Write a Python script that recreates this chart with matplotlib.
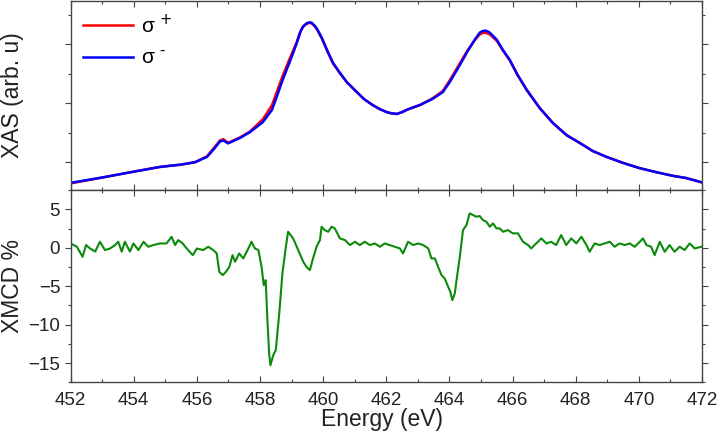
import numpy as np
from matplotlib import pyplot as plt
from matplotlib.ticker import MultipleLocator

plt.rcParams['font.family'] = ['Liberation Sans', 'DejaVu Sans']

# XAS spectra (arbitrary units)
xasEnergy = [452.00, 453.00, 454.00, 454.83, 455.50, 455.94, 456.32, 456.52, 456.73, 456.84,
             456.99, 457.36, 457.68, 458.09, 458.38, 458.55, 458.72, 458.94, 459.06, 459.17,
             459.27, 459.36, 459.42, 459.48, 459.53, 459.58, 459.63, 459.67, 459.73, 459.80,
             459.96, 460.12, 460.31, 460.53, 460.75, 460.90, 461.07, 461.30, 461.57, 461.80,
             462.02, 462.17, 462.33, 462.50, 462.65, 462.85, 463.06, 463.45, 463.79, 464.01,
             464.33, 464.55, 464.80, 464.96, 465.04, 465.12, 465.20, 465.28, 465.50, 465.69,
             465.91, 466.16, 466.45, 466.86, 467.27, 467.71, 468.12, 468.54, 468.98, 469.49,
             470.02, 470.56, 471.07, 471.51, 471.98]
xasMinus = [0.65, 0.74, 0.84, 0.92, 0.96, 1.00, 1.09, 1.21, 1.35, 1.37,
            1.32, 1.41, 1.51, 1.68, 1.89, 2.14, 2.40, 2.70, 2.87, 3.03,
            3.20, 3.30, 3.33, 3.36, 3.37, 3.375, 3.37, 3.35, 3.32, 3.27,
            3.11, 2.91, 2.69, 2.52, 2.36, 2.28, 2.19, 2.07, 1.97, 1.90,
            1.85, 1.83, 1.82, 1.85, 1.89, 1.93, 1.97, 2.07, 2.19, 2.36,
            2.65, 2.86, 3.08, 3.20, 3.225, 3.235, 3.225, 3.20, 3.08, 2.91,
            2.74, 2.48, 2.23, 1.92, 1.67, 1.46, 1.33, 1.19, 1.09, 0.99,
            0.90, 0.83, 0.77, 0.73, 0.66]
xasPlus = [0.64, 0.74, 0.84, 0.92, 0.96, 1.00, 1.10, 1.23, 1.37, 1.39,
           1.33, 1.42, 1.52, 1.73, 1.97, 2.22, 2.47, 2.76, 2.91, 3.05,
           3.21, 3.30, 3.33, 3.35, 3.36, 3.365, 3.36, 3.34, 3.31, 3.26,
           3.10, 2.90, 2.68, 2.51, 2.36, 2.28, 2.19, 2.07, 1.97, 1.90,
           1.85, 1.83, 1.82, 1.85, 1.89, 1.93, 1.97, 2.08, 2.21, 2.39,
           2.68, 2.88, 3.07, 3.17, 3.19, 3.20, 3.19, 3.17, 3.06, 2.90,
           2.73, 2.48, 2.22, 1.92, 1.67, 1.46, 1.33, 1.19, 1.09, 0.99,
           0.90, 0.83, 0.77, 0.73, 0.66]

# XMCD (%)
xmcdEnergy = [452.00, 452.20, 452.38, 452.49, 452.62, 452.78, 452.93, 453.09, 453.25, 453.41,
              453.51, 453.62, 453.72, 453.88, 453.99, 454.15, 454.31, 454.46, 454.62, 454.83,
              455.04, 455.20, 455.31, 455.41, 455.55, 455.68, 455.87, 456.00, 456.20, 456.36,
              456.52, 456.63, 456.71, 456.82, 456.92, 457.03, 457.13, 457.21, 457.34, 457.47,
              457.63, 457.73, 457.84, 457.95, 458.05, 458.12, 458.18, 458.23, 458.29, 458.33,
              458.42, 458.50, 458.61, 458.71, 458.82, 458.89, 459.05, 459.21, 459.37, 459.47,
              459.58, 459.68, 459.79, 459.90, 459.95, 460.05, 460.16, 460.27, 460.37, 460.53,
              460.69, 460.85, 461.01, 461.16, 461.32, 461.48, 461.64, 461.80, 461.95, 462.11,
              462.27, 462.43, 462.53, 462.69, 462.85, 463.01, 463.17, 463.33, 463.43, 463.54,
              463.64, 463.75, 463.85, 463.96, 464.03, 464.09, 464.17, 464.24, 464.33, 464.43,
              464.54, 464.64, 464.75, 464.85, 464.96, 465.06, 465.17, 465.28, 465.38, 465.49,
              465.59, 465.70, 465.85, 466.01, 466.17, 466.33, 466.49, 466.59, 466.75, 466.91,
              467.07, 467.22, 467.38, 467.54, 467.70, 467.86, 468.02, 468.18, 468.34, 468.44,
              468.60, 468.76, 468.92, 469.08, 469.23, 469.39, 469.55, 469.71, 469.87, 470.03,
              470.13, 470.24, 470.39, 470.50, 470.66, 470.82, 470.97, 471.13, 471.29, 471.45,
              471.61, 471.77, 471.98]
xmcdValues = [0.56, 0.13, -1.17, 0.35, -0.10, -0.50, 0.78, -0.30, -0.10, 0.35,
              0.78, -0.50, 0.78, -0.50, 0.56, -0.30, 0.78, 0.13, 0.35, 0.56,
              0.56, 1.43, 0.35, 1.00, 0.56, -0.10, -0.96, -0.10, -0.30, 0.13,
              -0.30, -0.74, -3.13, -3.56, -3.13, -2.48, -0.96, -1.82, -0.74, -1.39,
              -0.10, 0.78, -0.10, -0.30, -2.48, -4.86, -4.21, -8.98, -13.76, -15.28,
              -13.98, -13.32, -8.55, -3.34, 0.13, 2.08, 1.22, -0.30, -1.82, -2.47,
              -2.91, -1.39, 0.13, 1.00, 2.73, 2.30, 2.08, 2.73, 2.52, 1.22,
              1.00, 0.35, 0.78, 0.35, 0.78, 0.35, 0.56, 0.13, 0.56, 0.35,
              0.13, -0.09, -0.74, 0.78, 0.35, 0.56, 0.35, -0.09, -1.39, -1.39,
              -2.47, -3.56, -3.99, -5.08, -5.73, -6.81, -5.95, -3.78, -1.17, 2.30,
              2.95, 4.47, 4.25, 4.04, 4.12, 3.60, 3.39, 2.73, 3.17, 2.52,
              2.52, 2.08, 2.30, 1.87, 1.87, 0.78, 0.35, -0.09, 0.56, 1.22,
              0.56, 0.78, 0.35, 1.65, 0.35, 1.22, 0.56, 1.43, 0.35, -0.52,
              0.56, 0.35, 0.56, 0.78, 0.13, 0.56, 0.35, 0.56, 0.13, 0.78,
              1.22, 0.35, 0.13, -0.96, 0.78, -0.52, 0.35, -0.52, 0.13, -0.30,
              0.56, -0.09, 0.13]

xTicks = [452, 454, 456, 458, 460, 462, 464, 466, 468, 470, 472]
xmcdTicks = [5, 0, -5, -10, -15]

fig = plt.figure(figsize=(7.2, 4.32), dpi=100)
axTop = fig.add_axes([0.098, 0.560, 0.877, 0.438])
axBot = fig.add_axes([0.098, 0.115, 0.877, 0.445], sharex=axTop)

spineColor = "#444444"

axTop.plot(xasEnergy, xasPlus, color="#ff0000", linewidth=1.8, solid_joinstyle="round",
           label=r"σ $^{\text{+}}$")
axTop.plot(xasEnergy, xasMinus, color="#0000ff", linewidth=1.8, solid_joinstyle="round",
           label=r"σ $^{\text{-}}$")
axTop.set_ylim(0.527, 3.74)
axTop.yaxis.set_major_locator(MultipleLocator(1))
axTop.yaxis.set_minor_locator(MultipleLocator(0.5))
axTop.tick_params(axis="y", which="both", labelleft=False)
axTop.tick_params(axis="x", which="both", labelbottom=False)
axTop.legend(loc="upper left", frameon=False, fontsize=15, handlelength=2.4,
             handletextpad=0.4, borderaxespad=0.2, labelspacing=0.6)

axBot.plot(xmcdEnergy, xmcdValues, color="#0b8a0b", linewidth=1.5, solid_joinstyle="round")
axBot.set_ylim(-17.5, 7.5)
axBot.set_yticks(xmcdTicks)
axBot.yaxis.set_minor_locator(MultipleLocator(2.5))
axBot.set_xlim(452, 472)
axBot.set_xticks(xTicks)
axBot.xaxis.set_minor_locator(MultipleLocator(1))

for ax in (axTop, axBot):
    for s in ax.spines.values():
        s.set_color(spineColor)
        s.set_linewidth(1.0)
    ax.tick_params(axis="both", which="both", colors=spineColor, labelcolor="#222222",
                   labelsize=13.5, width=0.8)
    ax.tick_params(axis="x", which="both", direction="in", top=True, bottom=True)
    ax.tick_params(axis="y", which="both", left=True, right=True)
    ax.tick_params(axis="y", which="major", direction="out", length=4)
    ax.tick_params(axis="y", which="minor", direction="out", length=2.5)
    ax.tick_params(axis="x", which="major", length=4, pad=7)
    ax.tick_params(axis="x", which="minor", length=2.5)

fig.text(0.018, 0.78, "XAS (arb. u)", rotation=90, ha="center", va="center",
         fontsize=16.5, color="#222222")
fig.text(0.018, 0.339, "XMCD %", rotation=90, ha="center", va="center",
         fontsize=16.5, color="#222222")
fig.text(0.53, 0.028, "Energy (eV)", ha="center", va="center", fontsize=16.5,
         color="#222222")

plt.savefig("out.png", dpi=100)
